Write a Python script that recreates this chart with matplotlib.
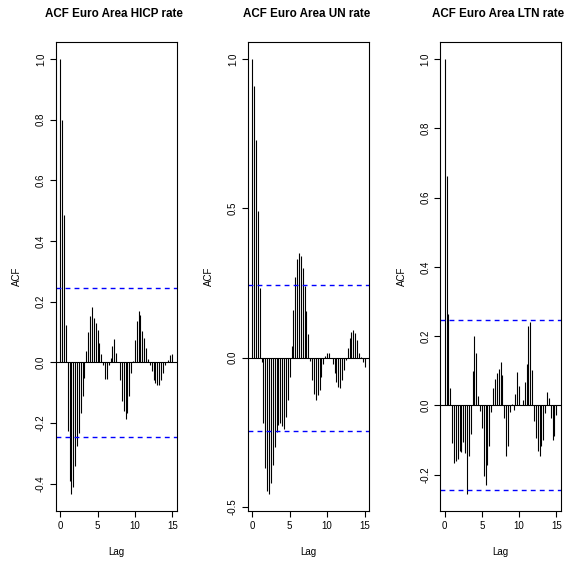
import numpy as np
import matplotlib
matplotlib.use("Agg")
import matplotlib.pyplot as plt

plt.rcParams['font.family'] = ['Liberation Sans', 'DejaVu Sans']

titles = ["ACF Euro Area HICP rate", "ACF Euro Area UN rate", "ACF Euro Area LTN rate"]

acf_hicp = [1.0, 0.80, 0.487, 0.124, -0.227, -0.39, -0.433, -0.41, -0.343, -0.277,
            -0.233, -0.167, -0.112, -0.051, 0.036, 0.10, 0.154, 0.182, 0.146, 0.13,
            0.108, 0.064, 0.029, -0.008, -0.054, -0.054, -0.01, 0.014, 0.053, 0.077,
            0.03, 0.0, -0.057, -0.128, -0.16, -0.186, -0.167, -0.112, -0.035, 0.003,
            0.075, 0.135, 0.168, 0.157, 0.102, 0.08, 0.047, 0.01, -0.01, -0.03,
            -0.057, -0.068, -0.074, -0.074, -0.057, -0.035, -0.008, 0.002, 0.009, 0.023,
            0.029]

acf_un = [1.0, 0.91, 0.73, 0.49, 0.235, -0.013, -0.22, -0.37, -0.445, -0.455,
          -0.42, -0.36, -0.30, -0.25, -0.225, -0.22, -0.23, -0.24, -0.20, -0.14,
          -0.065, 0.04, 0.16, 0.27, 0.33, 0.35, 0.34, 0.30, 0.24, 0.155,
          0.08, -0.01, -0.075, -0.12, -0.142, -0.125, -0.108, -0.064, -0.02, 0.006,
          0.017, 0.017, 0.0, -0.02, -0.052, -0.08, -0.097, -0.10, -0.075, -0.04,
          -0.008, 0.031, 0.065, 0.087, 0.093, 0.082, 0.06, 0.015, 0.003, -0.013,
          -0.032]

acf_ltn = [1.0, 0.663, 0.265, 0.05, -0.109, -0.167, -0.16, -0.155, -0.131, -0.136,
           -0.107, -0.138, -0.255, -0.145, -0.083, 0.098, 0.2, 0.15, 0.026, -0.017,
           -0.065, -0.203, -0.229, -0.171, -0.117, -0.02, 0.05, 0.076, 0.093, 0.105,
           0.124, 0.087, -0.037, -0.145, -0.118, -0.02, 0.003, -0.013, 0.034, 0.095,
           0.055, 0.0, 0.014, 0.066, 0.12, 0.228, 0.24, 0.103, -0.046, -0.094,
           -0.133, -0.147, -0.118, -0.10, -0.022, 0.038, 0.021, -0.037, -0.10, -0.09,
           -0.027]

series = [acf_hicp, acf_un, acf_ltn]
frequency = 4          # quarterly data: lag expressed in years
n_obs = 64             # gives the +-1.96/sqrt(n) bound
yticks_list = [[-0.4, -0.2, 0.0, 0.2, 0.4, 0.6, 0.8, 1.0],
               [-0.5, 0.0, 0.5, 1.0],
               [-0.2, 0.0, 0.2, 0.4, 0.6, 0.8, 1.0]]
xticks = [0, 5, 10, 15]

W, H = 570, 565
fig = plt.figure(figsize=(W / 100, H / 100), dpi=100)

lefts = [55.7, 247.7, 440.3]
widths = [121.0, 121.3, 120.4]
top_px, bot_px = 41.7, 511.0

clim = 1.96 / np.sqrt(n_obs)
fs = 7.0

for i in range(3):
    ax = fig.add_axes([lefts[i] / W, 1 - bot_px / H, widths[i] / W, (bot_px - top_px) / H])
    vals = np.array(series[i])
    lags = np.arange(len(vals)) / frequency
    ax.vlines(lags, 0, vals, colors='black', linewidth=0.8)
    ax.axhline(0, color='black', linewidth=0.8)
    for s in (clim, -clim):
        ax.axhline(s, color='#0000FF', linewidth=1.0, linestyle=(0, (3.5, 3)))
    lo = min(vals.min(), -clim)
    hi = max(vals.max(), clim)
    r = hi - lo
    ax.set_ylim(lo - 0.04 * r, hi + 0.04 * r)
    xr = lags.max() - lags.min()
    ax.set_xlim(lags.min() - 0.04 * xr, lags.max() + 0.04 * xr)
    ax.set_xticks(xticks)
    ax.set_xticklabels([str(t) for t in xticks], fontsize=fs)
    ax.set_yticks(yticks_list[i])
    ax.set_yticklabels([f"{t:.1f}" for t in yticks_list[i]], fontsize=fs,
                       rotation=90, va='center')
    ax.tick_params(direction='out', length=4, width=0.8, pad=3)
    for sp in ax.spines.values():
        sp.set_linewidth(0.8)
    ax.set_xlabel("Lag", fontsize=fs, labelpad=12)
    ax.set_ylabel("ACF", fontsize=fs, labelpad=10)
    cx = (lefts[i] + widths[i] / 2 - 2) / W
    fig.text(cx, 1 - 14 / H, titles[i], ha='center', va='center',
             fontsize=8.4, fontweight='bold')

fig.savefig("out.png", dpi=100)
